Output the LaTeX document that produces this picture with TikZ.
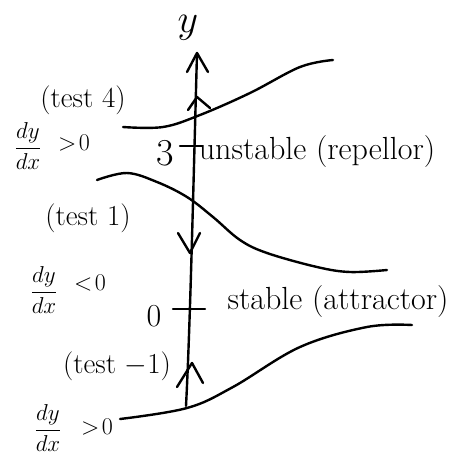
\RequirePackage{fix-cm}
\documentclass[tikz,border=0pt]{standalone}
\usepackage{amsmath}
\begin{document}
\begin{tikzpicture}[x=1pt,y=-1pt,
  ink/.style={line width=2.4pt,line cap=round,line join=round,black},
  lbl/.style={inner sep=0pt,font=\fontsize{32}{36}\selectfont},
  frac/.style={inner sep=0pt,font=\fontsize{23}{26}\selectfont},
  sm/.style={inner sep=0pt,font=\fontsize{29}{32}\selectfont},
  rel/.style={inner sep=0pt,font=\fontsize{24}{26}\selectfont}]
\useasboundingbox (0,0) rectangle (455,456);
% axis
\coordinate (top) at (197,53);
\coordinate (bot) at (186,406);
\draw[ink] (top) .. controls (193,200) and (190,330) .. (bot);
\draw[ink] (187,72) -- (top) -- (208,72);
\node[inner sep=0pt,font=\fontsize{40}{44}\selectfont] (ylab) at (188,28) {$y$};
% arrows on axis
\draw[ink] (188,110) -- (197,97) -- (210,108);
\draw[ink] (178,233) -- (190,253) -- (200,233);
\draw[ink] (177,387) -- (192,363) -- (203,383);
% ticks
\draw[ink] (180,146) -- (202,146);
\draw[ink] (173,309) -- (205,309);
\node[inner sep=0pt,font=\fontsize{38}{40}\selectfont] (three) at (165,153) {3};
\node[lbl] (zero) at (154,316) {0};
\node[lbl] (unst) at (317,152) {unstable (repellor)};
\node[lbl] (stab) at (338,302) {stable (attractor)};
% solution curves
\draw[ink] plot[smooth,tension=0.6] coordinates {(123,127) (163,127) (200,115) (250,93) (300,67) (333,60)};
\draw[ink] plot[smooth,tension=0.6] coordinates {(97,180) (127,173) (157,182) (187,197) (213,217) (240,240) (267,253) (317,267) (350,272) (387,270)};
\draw[ink] plot[smooth,tension=0.6] coordinates {(120,419) (187,408) (233,387) (300,347) (367,327) (412,325)};
% left labels
\node[sm] (t4) at (83,100) {(test 4)};
\node[frac] (f1) at (28,146) {$\dfrac{dy}{dx}$};
\node[rel] (g1) at (74,143) {$>\!0$};
\node[sm] (t1) at (88,218) {(test 1)};
\node[frac] (f2) at (44,290) {$\dfrac{dy}{dx}$};
\node[rel] (l2) at (90,283) {$<\!0$};
\node[sm] (tm1) at (117,366) {(test $-1$)};
\node[frac] (f3) at (48,428) {$\dfrac{dy}{dx}$};
\node[rel] (g3) at (97,427) {$>\!0$};
\end{tikzpicture}
\end{document}
